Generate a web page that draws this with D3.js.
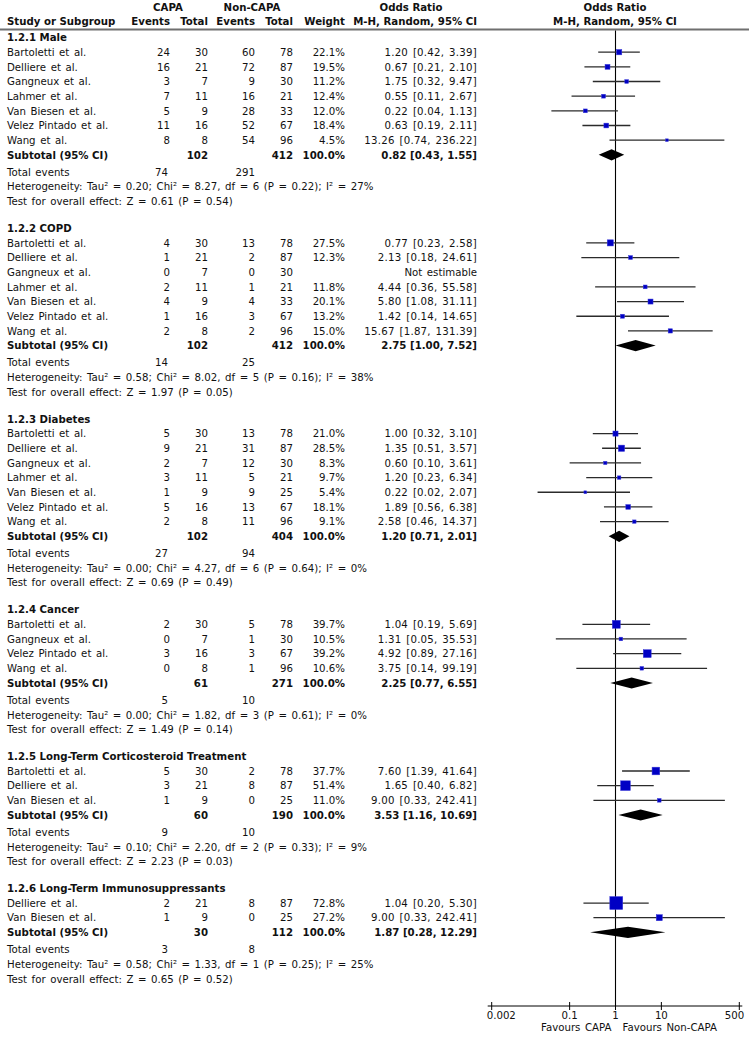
<!DOCTYPE html>
<html><head><meta charset="utf-8">
<script src="https://cdn.jsdelivr.net/npm/d3@7"></script>
<style>
body{margin:0;background:#fff;}
text{font-family:"DejaVu Sans",Verdana,sans-serif;font-size:10.2px;fill:#111;word-spacing:1.3px;}
.b{font-weight:bold;word-spacing:0;}
.orc{letter-spacing:0.25px;}
</style></head><body>
<svg id="c" width="751" height="1039"></svg>
<script>
// ---------- DATA ----------
const groupNames = ["1.2.1 Male","1.2.2 COPD","1.2.3 Diabetes","1.2.4 Cancer",
  "1.2.5 Long-Term Corticosteroid Treatment","1.2.6 Long-Term Immunosuppressants"];
const studyGroup = [0,0,0,0,0,0,0, 1,1,1,1,1,1,1, 2,2,2,2,2,2,2, 3,3,3,3, 4,4,4, 5,5];
const studyNames = [
 "Bartoletti et al.","Delliere et al.","Gangneux et al.","Lahmer et al.","Van Biesen et al.","Velez Pintado et al.","Wang et al.",
 "Bartoletti et al.","Delliere et al.","Gangneux et al.","Lahmer et al.","Van Biesen et al.","Velez Pintado et al.","Wang et al.",
 "Bartoletti et al.","Delliere et al.","Gangneux et al.","Lahmer et al.","Van Biesen et al.","Velez Pintado et al.","Wang et al.",
 "Bartoletti et al.","Gangneux et al.","Velez Pintado et al.","Wang et al.",
 "Bartoletti et al.","Delliere et al.","Van Biesen et al.",
 "Delliere et al.","Van Biesen et al."];
const capaEvents = [24,16,3,7,5,11,8, 4,1,0,2,4,1,2, 5,9,2,3,1,5,2, 2,0,3,0, 5,3,1, 2,1];
const capaTotal  = [30,21,7,11,9,16,8, 30,21,7,11,9,16,8, 30,21,7,11,9,16,8, 30,7,16,8, 30,21,9, 21,9];
const nonEvents  = [60,72,9,16,28,52,54, 13,2,0,1,4,3,2, 13,31,12,5,9,13,11, 5,1,3,1, 2,8,0, 8,0];
const nonTotal   = [78,87,30,21,33,67,96, 78,87,30,21,33,67,96, 78,87,30,21,25,67,96, 78,30,67,96, 78,87,25, 87,25];
const weights    = [22.1,19.5,11.2,12.4,12.0,18.4,4.5, 27.5,12.3,null,11.8,20.1,13.2,15.0, 21.0,28.5,8.3,9.7,5.4,18.1,9.1, 39.7,10.5,39.2,10.6, 37.7,51.4,11.0, 72.8,27.2];
const orValue    = [1.20,0.67,1.75,0.55,0.22,0.63,13.26, 0.77,2.13,null,4.44,5.80,1.42,15.67, 1.00,1.35,0.60,1.20,0.22,1.89,2.58, 1.04,1.31,4.92,3.75, 7.60,1.65,9.00, 1.04,9.00];
const orLow      = [0.42,0.21,0.32,0.11,0.04,0.19,0.74, 0.23,0.18,null,0.36,1.08,0.14,1.87, 0.32,0.51,0.10,0.23,0.02,0.56,0.46, 0.19,0.05,0.89,0.14, 1.39,0.40,0.33, 0.20,0.33];
const orHigh     = [3.39,2.10,9.47,2.67,1.13,2.11,236.22, 2.58,24.61,null,55.58,31.11,14.65,131.39, 3.10,3.57,3.61,6.34,2.07,6.38,14.37, 5.69,35.53,27.16,99.19, 41.64,6.82,242.41, 5.30,242.41];

const subCapaTotal = [102,102,102,61,60,30];
const subNonTotal  = [412,412,404,271,190,112];
const subOR   = [0.82,2.75,1.20,2.25,3.53,1.87];
const subLow  = [0.43,1.00,0.71,0.77,1.16,0.28];
const subHigh = [1.55,7.52,2.01,6.55,10.69,12.29];
const totCapaEvents = [74,14,27,5,9,3];
const totNonEvents  = [291,25,94,10,10,8];
const hetTau = ["0.20","0.58","0.00","0.00","0.10","0.58"];
const hetChi = ["8.27","8.02","4.27","1.82","2.20","1.33"];
const hetDf  = [6,5,6,3,2,1];
const hetP   = ["0.22","0.16","0.64","0.61","0.33","0.25"];
const hetI2  = ["27%","38%","0%","0%","9%","25%"];
const testZ  = ["0.61","1.97","0.69","1.49","2.23","0.65"];
const testP  = ["0.54","0.05","0.49","0.14","0.03","0.52"];

const tickValues = [0.002, 0.1, 1, 10, 500];
const tickLabels = ["0.002","0.1","1","10","500"];

// ---------- LAYOUT ----------
const svg = d3.select("#c");
const S = 14.67, Y0 = 37.5, AXIS_Y = 1006;
const X = { name:7, ce:170, ct:208, ne:255, nt:293, w:345, or:477 };
const x = d3.scaleLog().domain([0.002, 500]).range([491.7, 739.3]).clamp(true);
const side = d3.scaleLinear().domain([0, 100]).range([2, 17]);

function fmt(v){ return v.toFixed(2); }
function txt(xp, yc, s, anchor, cls){
  return svg.append("text").attr("x", xp).attr("y", yc + 3.7)
    .attr("text-anchor", anchor || "start").attr("class", cls || null).text(s);
}

// header
txt(168, 7.3, "CAPA", "middle", "b");
txt(252, 7.3, "Non-CAPA", "middle", "b");
txt(411, 7.3, "Odds Ratio", "middle", "b");
txt(615, 7.3, "Odds Ratio", "middle", "b");
txt(X.name, 21.5, "Study or Subgroup", "start", "b");
txt(X.ce, 21.5, "Events", "end", "b");
txt(X.ct, 21.5, "Total", "end", "b");
txt(X.ne, 21.5, "Events", "end", "b");
txt(X.nt, 21.5, "Total", "end", "b");
txt(X.w, 21.5, "Weight", "end", "b");
txt(X.or, 21.5, "M-H, Random, 95% CI", "end", "b");
txt(615, 21.5, "M-H, Random, 95% CI", "middle", "b");

svg.append("line").attr("x1",0).attr("x2",749).attr("y1",29.5).attr("y2",29.5)
  .attr("stroke","#6f6f6f").attr("stroke-width",2.2);

// null line
svg.append("line").attr("x1", x(1)).attr("x2", x(1)).attr("y1", 30.5).attr("y2", AXIS_Y)
  .attr("stroke","#000").attr("stroke-width",1.1);

let y = Y0;
groupNames.forEach((g, gi) => {
  txt(X.name, y, g, "start", "b");
  const idx = studyGroup.map((v,i)=>v===gi?i:-1).filter(i=>i>=0);
  idx.forEach(i => {
    y += S;
    txt(X.name, y, studyNames[i]);
    txt(X.ce, y, capaEvents[i], "end");
    txt(X.ct, y, capaTotal[i], "end");
    txt(X.ne, y, nonEvents[i], "end");
    txt(X.nt, y, nonTotal[i], "end");
    if (orValue[i] == null) {
      txt(X.or, y, "Not estimable", "end");
    } else {
      txt(X.w, y, weights[i].toFixed(1) + "%", "end");
      txt(X.or, y, fmt(orValue[i]) + " [" + fmt(orLow[i]) + ", " + fmt(orHigh[i]) + "]", "end", "orc");
      svg.append("line").attr("x1", x(orLow[i])).attr("x2", x(orHigh[i]))
        .attr("y1", y).attr("y2", y).attr("stroke","#2b2b2b").attr("stroke-width",1.3);
      const s = side(weights[i]);
      svg.append("rect").attr("x", x(orValue[i]) - s/2).attr("y", y - s/2)
        .attr("width", s).attr("height", s).attr("fill","#0000c4")
        .attr("stroke","#3a3ad8").attr("stroke-width",0.5);
    }
  });
  // subtotal
  y += S;
  txt(X.name, y, "Subtotal (95% CI)", "start", "b");
  txt(X.ct, y, subCapaTotal[gi], "end", "b");
  txt(X.nt, y, subNonTotal[gi], "end", "b");
  txt(X.w, y, "100.0%", "end", "b");
  txt(X.or, y, fmt(subOR[gi]) + " [" + fmt(subLow[gi]) + ", " + fmt(subHigh[gi]) + "]", "end", "b");
  const h = 5.6;
  const pts = [[x(subLow[gi]), y], [x(subOR[gi]), y - h], [x(subHigh[gi]), y], [x(subOR[gi]), y + h]];
  svg.append("path").attr("d", d3.line()(pts) + "Z").attr("fill","#000");
  // total events
  y += S + 2.5;
  txt(X.name, y, "Total events");
  txt(X.ce - 2, y, totCapaEvents[gi], "end");
  txt(X.ne, y, totNonEvents[gi], "end");
  y += S;
  txt(X.name, y, "Heterogeneity: Tau\u00b2 = " + hetTau[gi] + "; Chi\u00b2 = " + hetChi[gi] +
      ", df = " + hetDf[gi] + " (P = " + hetP[gi] + "); I\u00b2 = " + hetI2[gi]);
  y += S;
  txt(X.name, y, "Test for overall effect: Z = " + testZ[gi] + " (P = " + testP[gi] + ")");
  y += 2 * S - 2.5;
});

// axis
const ax = svg.append("g");
ax.append("line").attr("x1", x(0.002) - 4).attr("x2", x(500) + 3).attr("y1", AXIS_Y).attr("y2", AXIS_Y)
  .attr("stroke","#000").attr("stroke-width",1);
tickValues.forEach((t, i) => {
  ax.append("line").attr("x1", x(t)).attr("x2", x(t)).attr("y1", AXIS_Y - 4).attr("y2", AXIS_Y + 4)
    .attr("stroke","#000").attr("stroke-width",1);
  let anchor = "middle", dx = 0;
  if (i === 0) { anchor = "start"; dx = -5; }
  if (i === tickValues.length - 1) { anchor = "end"; dx = 5; }
  txt(x(t) + dx, 1015.5, tickLabels[i], anchor);
});
txt(x(1) - 4, 1027.5, "Favours CAPA", "end");
txt(x(1) + 7, 1027.5, "Favours Non-CAPA", "start");
</script></body></html>
